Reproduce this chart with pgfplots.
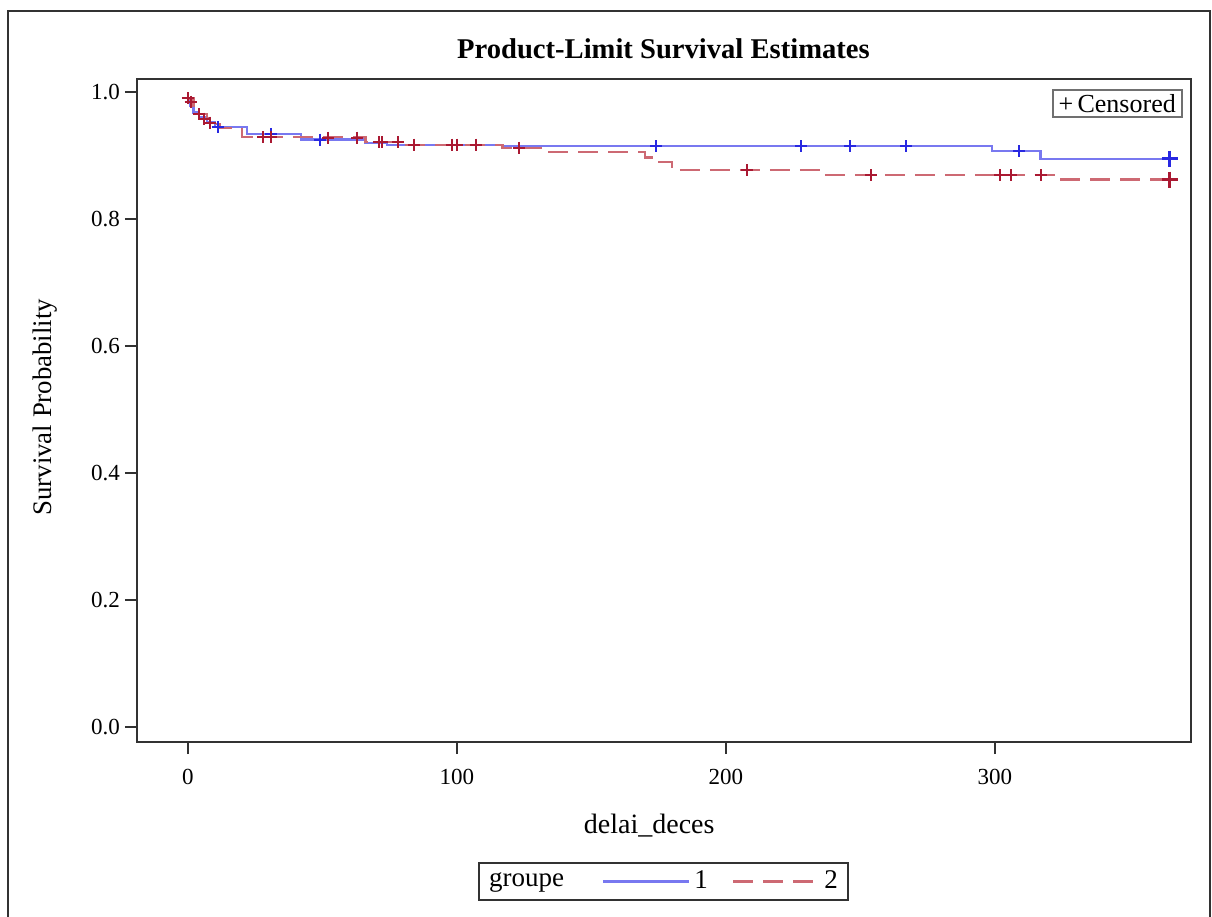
\documentclass[border=0pt]{standalone}
\usepackage{fontspec}
\setmainfont{Liberation Serif}
\usepackage{pgfplots}
\pgfplotsset{compat=1.18}
\definecolor{axgray}{RGB}{50,50,50}
\definecolor{bline}{RGB}{120,120,240}
\definecolor{bmark}{RGB}{40,40,225}
\definecolor{rline}{RGB}{205,105,115}
\definecolor{rmark}{RGB}{170,25,50}
\begin{document}
\begin{tikzpicture}
\useasboundingbox (0,0) rectangle (606pt,-458.5pt);
\draw[axgray, line width=1pt] (4pt,-458.5pt) -- (4pt,-5.5pt) -- (605pt,-5.5pt) -- (605pt,-458.5pt);
\begin{axis}[
 at={(68.5pt,-371pt)}, anchor=south west,
 scale only axis, width=527pt, height=331.5pt,
 xmin=-18.96, xmax=372.9, ymin=-0.0236, ymax=1.0205,
 axis line style={axgray, line width=1pt},
 tick style={axgray, line width=1pt},
 major tick length=6pt,
 tick align=outside, xtick pos=left, ytick pos=left,
 xtick={0,100,200,300}, ytick={0,0.2,0.4,0.6,0.8,1.0},
 yticklabel style={xshift=1pt, /pgf/number format/.cd, fixed, fixed zerofill, precision=1},
 /pgf/number format/assume math mode=true,
 ticklabel style={font=\fontsize{11.5}{13}\selectfont},
 xticklabel style={yshift=-4pt},
 xlabel={delai\_deces}, ylabel={Survival Probability},
 xlabel style={font=\fontsize{14}{16}\selectfont, at={(axis description cs:0.486,-0.1267)}, anchor=center},
 ylabel style={font=\fontsize{13.4}{15}\selectfont, at={(axis description cs:-0.0873,0.505)}, anchor=center},
 title={Product-Limit Survival Estimates},
 every axis title shift=0pt,
 title style={font=\fontsize{14.3}{16}\bfseries\selectfont, at={(axis description cs:0.4995,1.045)}, anchor=center},
 legend columns=-1,
 legend style={at={(axis description cs:0.4995,-0.2104)}, anchor=center, draw=axgray, line width=1pt,
   font=\fontsize{13.5}{15}\selectfont, inner xsep=3pt, inner ysep=2pt,
   /tikz/every odd column/.append style={column sep=0pt},
   /tikz/every even column/.append style={column sep=10pt}},
 legend image code/.code={\draw[#1] (0pt,0pt) -- (43pt,0pt);},
]
\addlegendimage{empty legend}
\addlegendentry{groupe\kern7pt}
% group 1
\addplot[const plot, color=bline, line width=1.2pt] coordinates {
(0,1.000) (0,0.990) (1,0.978) (2,0.968) (4,0.960) (7,0.952) (10,0.945)
(22,0.934) (42,0.925) (66,0.920) (74,0.917) (117,0.915) (299,0.907)
(317,0.895) (365,0.895)};
\addlegendentry{1}
% group 2
\addplot[const plot, color=rline, line width=1.2pt, dash pattern=on 10pt off 5pt] coordinates {
(0,1.000) (0,0.990) (2,0.972) (4,0.965) (7,0.958) (10,0.950) (12,0.943)
(20,0.929) (66,0.921) (80,0.917) (117,0.912) (132,0.906) (170,0.897)
(174,0.890) (180,0.877) (235,0.869) (323,0.862) (365,0.862)};
\addlegendentry{2}
% censored group 1
\addplot[only marks, mark=+, mark size=3pt, color=bmark, line width=1pt, forget plot] coordinates {
(0,0.990) (11,0.945) (31,0.934) (49,0.925) (174,0.915) (228,0.915)
(246,0.915) (267,0.915) (309,0.907)};
\addplot[only marks, mark=+, mark size=4pt, color=bmark, line width=1.5pt, forget plot] coordinates {(365,0.895)};
% censored group 2
\addplot[only marks, mark=+, mark size=3pt, color=rmark, line width=1pt, forget plot] coordinates {
(0,0.990) (1,0.985) (4,0.965) (6,0.958) (8,0.952) (28,0.929) (31,0.929)
(52,0.928) (63,0.928) (71,0.921) (72,0.921) (78,0.921) (84,0.917) (98,0.917)
(100,0.917) (107,0.917) (123,0.912) (208,0.877) (254,0.869) (302,0.869)
(306,0.869) (317,0.869)};
\addplot[only marks, mark=+, mark size=4pt, color=rmark, line width=1.5pt, forget plot] coordinates {(365,0.862)};
\node[draw=axgray!70, line width=1pt, fill=white, inner xsep=3pt, inner ysep=2pt, font=\fontsize{13}{15}\selectfont]
  at (axis description cs:0.930,0.963) {+\,Censored};
\end{axis}
\end{tikzpicture}
\end{document}
